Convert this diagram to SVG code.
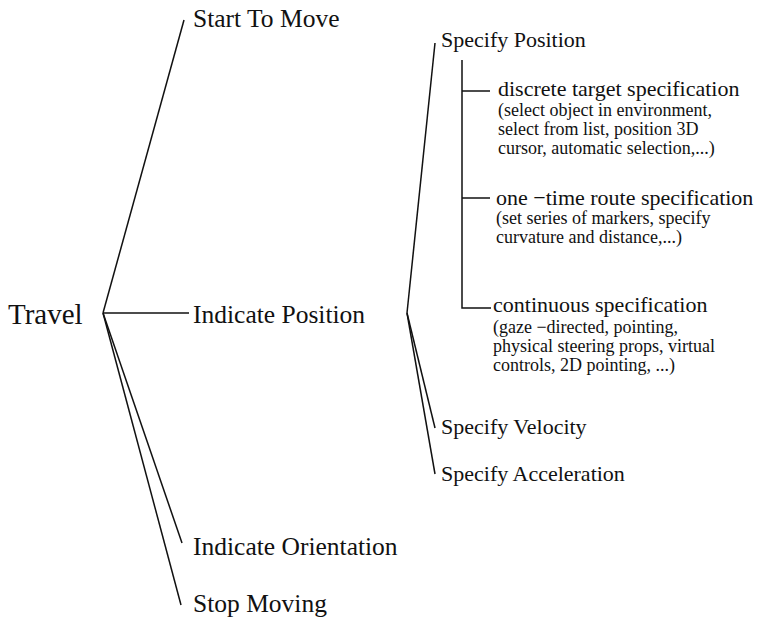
<svg xmlns="http://www.w3.org/2000/svg" width="763" height="619" viewBox="0 0 763 619">
<style>
.t{font-family:'Liberation Serif','DejaVu Serif',serif;fill:#111}
.root{font-size:29px}
.l1{font-size:25.5px}
.l2{font-size:22px}
.sm{font-size:18px}
.c line,.c polyline{stroke:#111;stroke-width:1.5;fill:none}
</style>
<rect width="763" height="619" fill="#fff"/>
<g class="c" id="connectors">
<line x1="103" y1="313" x2="184" y2="20"/>
<line x1="103" y1="313" x2="189" y2="313"/>
<line x1="103" y1="313" x2="182" y2="543"/>
<line x1="103" y1="313" x2="181" y2="605"/>
<line x1="407" y1="313" x2="435" y2="43"/>
<line x1="407" y1="313" x2="435" y2="428"/>
<line x1="407" y1="313" x2="435" y2="474"/>
<polyline points="462,60 462,308 491,308"/>
<line x1="462" y1="91" x2="490" y2="91"/>
<line x1="462" y1="198" x2="490" y2="198"/>
</g>
<g class="t" font-family="Liberation Serif, DejaVu Serif, serif">
<g id="travel"><text class="root" x="8" y="324">Travel</text></g>
<g id="start"><text class="l1" x="193" y="27">Start To Move</text></g>
<g id="indicate-position"><text class="l1" x="193" y="323">Indicate Position</text></g>
<g id="indicate-orientation"><text class="l1" x="193" y="555">Indicate Orientation</text></g>
<g id="stop"><text class="l1" x="193" y="612">Stop Moving</text></g>
<g id="specify-position"><text class="l2" x="441" y="47">Specify Position</text></g>
<g id="discrete">
<text class="l2" x="498" y="96">discrete target specification</text>
<text class="sm" x="498" y="116">(select object in environment,</text>
<text class="sm" x="498" y="135">select from list, position 3D</text>
<text class="sm" x="498" y="154">cursor, automatic selection,...)</text>
</g>
<g id="one-time">
<text class="l2" x="496" y="205">one −time route specification</text>
<text class="sm" x="496" y="224">(set series of markers, specify</text>
<text class="sm" x="496" y="243">curvature and distance,...)</text>
</g>
<g id="continuous">
<text class="l2" x="493" y="312">continuous specification</text>
<text class="sm" x="493" y="333">(gaze −directed, pointing,</text>
<text class="sm" x="493" y="352">physical steering props, virtual</text>
<text class="sm" x="493" y="371">controls, 2D pointing, ...)</text>
</g>
<g id="specify-velocity"><text class="l2" x="441" y="434">Specify Velocity</text></g>
<g id="specify-acceleration"><text class="l2" x="441" y="481">Specify Acceleration</text></g>
</g>
</svg>
